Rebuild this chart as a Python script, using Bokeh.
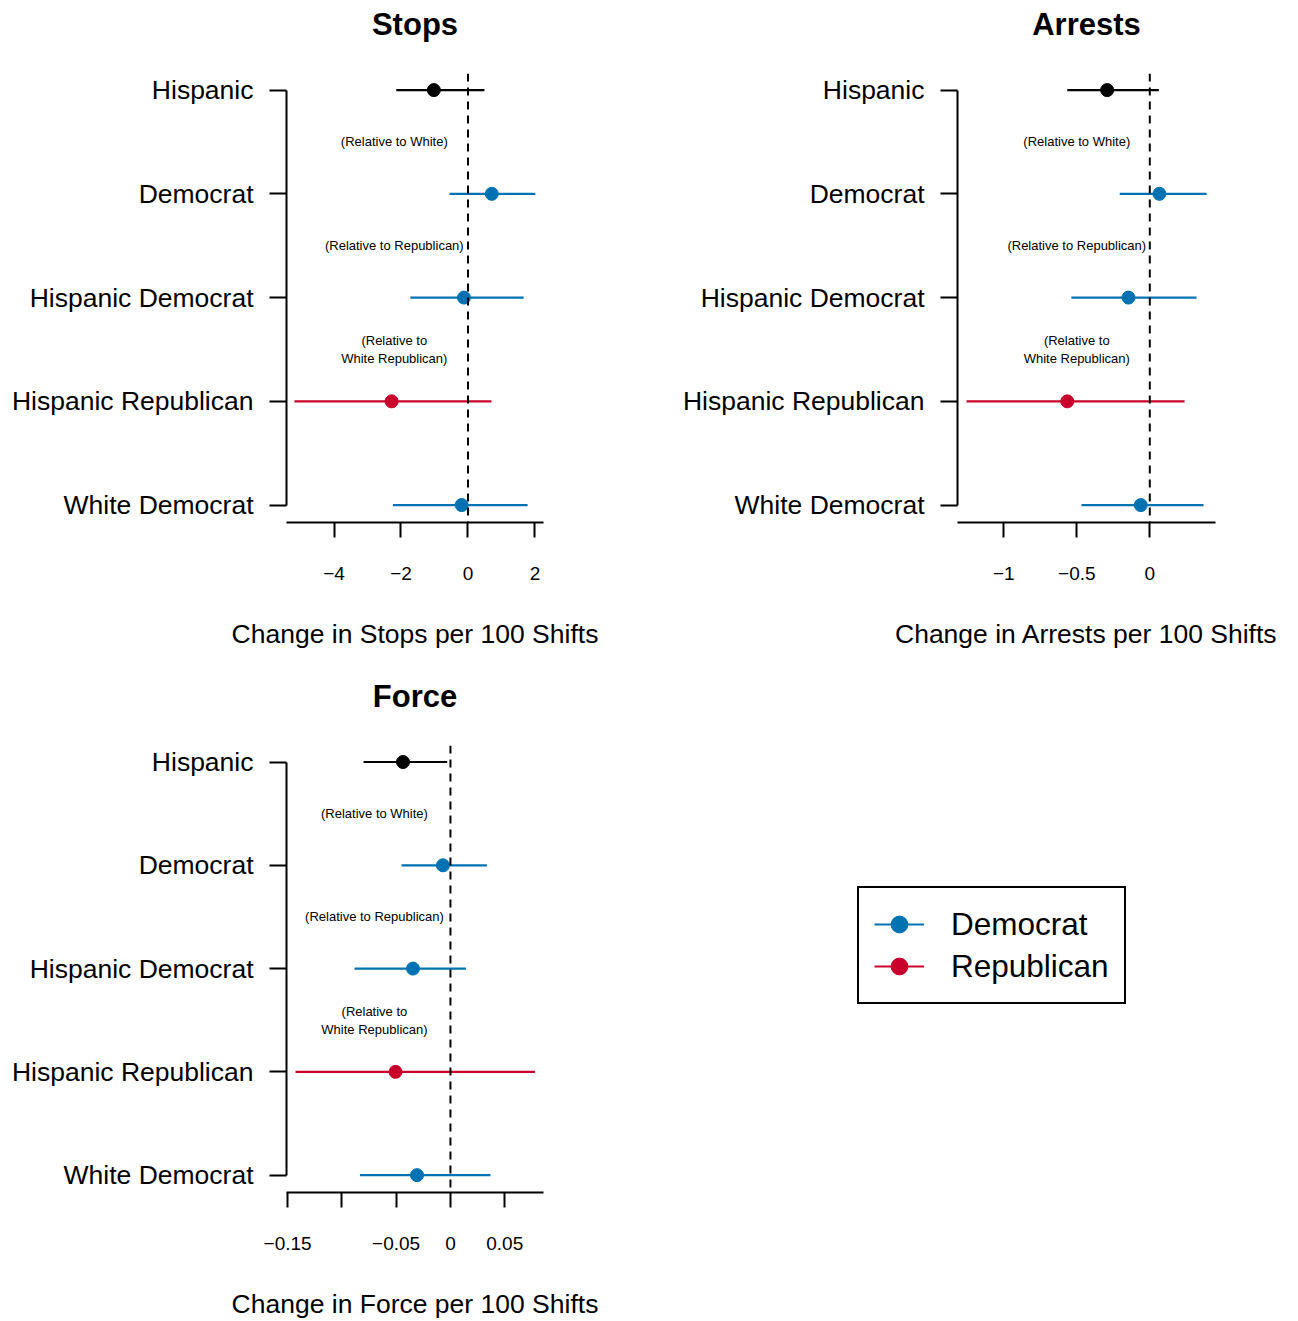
from bokeh.plotting import figure
from bokeh.layouts import column, row
from bokeh.models import ColumnDataSource, FixedTicker, Span, Legend, LegendItem, Range1d, Title
from bokeh.core.properties import value
from bokeh.embed import file_html
from bokeh.resources import INLINE

FONT = "Liberation Sans"
BLUE = "#0072B2"
RED = "#C9002B"

# ---- data -------------------------------------------------------------
rows = ["Hispanic", "Democrat", "Hispanic Democrat", "Hispanic Republican", "White Democrat"]
row_party = ["Hispanic", "Democrat", "Democrat", "Republican", "Democrat"]
notes = ["(Relative to White)", "(Relative to Republican)", "(Relative to\nWhite Republican)"]

stops_est = [-1.02, 0.71, -0.12, -2.28, -0.19]
stops_lo = [-2.14, -0.55, -1.72, -5.18, -2.24]
stops_hi = [0.49, 2.01, 1.66, 0.70, 1.78]
stops_ticks = [-4, -2, 0, 2]
stops_tick_labels = ["−4", "−2", "0", "2"]
stops_note_x = -2.2

arrests_est = [-0.292, 0.066, -0.146, -0.565, -0.062]
arrests_lo = [-0.565, -0.206, -0.537, -1.255, -0.468]
arrests_hi = [0.062, 0.389, 0.320, 0.238, 0.368]
arrests_ticks = [-1, -0.5, 0]
arrests_tick_labels = ["−1", "−0.5", "0"]
arrests_note_x = -0.5

force_est = [-0.0437, -0.0069, -0.0345, -0.0506, -0.0308]
force_lo = [-0.0800, -0.0450, -0.0884, -0.1427, -0.0833]
force_hi = [-0.0030, 0.0336, 0.0143, 0.0778, 0.0368]
force_ticks = [-0.15, -0.10, -0.05, 0, 0.05]
force_tick_labels = ["−0.15", "", "−0.05", "0", "0.05"]
force_note_x = -0.07

legend_labels = ["Democrat", "Republican"]

# ---- styling ----------------------------------------------------------
party_colors = {"Hispanic": "black", "Democrat": BLUE, "Republican": RED}


def make_panel(title, est, lo, hi, ticks, tick_labels, note_x, xlabel, x_limits,
               width, height, left, top, bottom, frame_w):
    n = len(rows)
    ys = [n - i for i in range(n)]
    colors = [party_colors[p] for p in row_party]
    src = ColumnDataSource(dict(y=ys, est=est, lo=lo, hi=hi, color=colors))

    p = figure(width=width, height=height,
               x_range=Range1d(*x_limits), y_range=Range1d(0.832, n + 0.16),
               toolbar_location=None, output_backend="svg")
    p.min_border_left = left
    p.min_border_right = width - left - frame_w
    p.min_border_top = top
    p.min_border_bottom = bottom
    p.outline_line_color = None
    p.grid.visible = False

    # heading, lifted away from the plotting area by an empty title row
    p.title.text = title
    p.title.align = "center"
    p.title.text_color = "black"
    p.title.text_font = FONT
    p.title.text_font_size = "31px"
    p.title.text_font_style = "bold"
    p.title.standoff = 0
    p.add_layout(Title(text=" ", text_font_size="26px", standoff=0), "above")

    # reference line at zero
    p.add_layout(Span(location=0, dimension="height", line_color="black",
                      line_width=2, line_dash="8 6"))

    # confidence intervals and point estimates
    p.segment(x0="lo", y0="y", x1="hi", y1="y", source=src, line_color="color", line_width=2.2)
    p.scatter(x="est", y="y", source=src, size=13, fill_color="color", line_color="color")

    # comparison notes between rows
    note_src = ColumnDataSource(dict(x=[note_x] * len(notes),
                                     y=[n - i - 0.5 for i in range(len(notes))],
                                     text=notes))
    p.text(x="x", y="y", text="text", source=note_src, text_font=value(FONT),
           text_font_size="13px", text_align="center", text_baseline="middle",
           text_color="black", text_line_height=1.2)

    # x axis
    xa = p.xaxis[0]
    xa.ticker = FixedTicker(ticks=ticks)
    xa.major_label_overrides = {t: lab for t, lab in zip(ticks, tick_labels)}
    xa.axis_label = xlabel
    xa.axis_label_text_font = FONT
    xa.axis_label_text_font_size = "26.5px"
    xa.axis_label_text_font_style = "normal"
    xa.axis_label_text_color = "black"
    xa.axis_label_standoff = 36
    xa.major_label_text_font = FONT
    xa.major_label_text_font_size = "19px"
    xa.major_label_text_color = "black"
    xa.major_label_standoff = 29
    xa.major_tick_in = 0
    xa.major_tick_out = 15
    xa.minor_tick_line_color = None
    xa.axis_line_width = 2
    xa.major_tick_line_width = 2
    xa.axis_line_color = "black"
    xa.major_tick_line_color = "black"

    # y axis with row names
    ya = p.yaxis[0]
    ya.ticker = FixedTicker(ticks=ys)
    ya.major_label_overrides = {y: name for y, name in zip(ys, rows)}
    ya.bounds = (1, n)
    ya.major_label_text_font = FONT
    ya.major_label_text_font_size = "26.5px"
    ya.major_label_text_color = "black"
    ya.major_label_standoff = 16
    ya.major_tick_in = 0
    ya.major_tick_out = 17
    ya.minor_tick_line_color = None
    ya.axis_line_width = 2
    ya.major_tick_line_width = 2
    ya.axis_line_color = "black"
    ya.major_tick_line_color = "black"
    return p


p1 = make_panel("Stops", stops_est, stops_lo, stops_hi, stops_ticks, stops_tick_labels,
                stops_note_x, "Change in Stops per 100 Shifts", (-5.418, 2.254),
                649, 672, 286, 73, 150, 257)
p2 = make_panel("Arrests", arrests_est, arrests_lo, arrests_hi, arrests_ticks, arrests_tick_labels,
                arrests_note_x, "Change in Arrests per 100 Shifts", (-1.317, 0.450),
                649, 672, 308, 73, 150, 258)
p3 = make_panel("Force", force_est, force_lo, force_hi, force_ticks, force_tick_labels,
                force_note_x, "Change in Force per 100 Shifts", (-0.151, 0.0857),
                649, 649, 286, 73, 127, 257)

# legend panel
p4 = figure(width=649, height=649, x_range=(0, 1), y_range=(0, 1),
            x_axis_location=None, y_axis_location=None,
            toolbar_location=None, output_backend="svg", min_border=0)
p4.outline_line_color = None
p4.grid.visible = False
items = []
for lab in legend_labels:
    c = party_colors[lab]
    nan = float("nan")
    ln = p4.line(x=[nan], y=[nan], line_color=c, line_width=2)
    sc = p4.scatter(x=[nan], y=[nan], size=17, fill_color=c, line_color=c)
    items.append(LegendItem(label=lab, renderers=[ln, sc]))
leg = Legend(items=items, location=(208, 188), orientation="vertical",
             glyph_width=50, glyph_height=42, label_height=42, label_width=158,
             label_standoff=27, spacing=0, padding=15, margin=0,
             label_text_font=FONT, label_text_font_size="31.5px", label_text_color="black",
             border_line_color="black", border_line_width=2, border_line_alpha=1.0,
             background_fill_color="white", background_fill_alpha=1.0)
p4.add_layout(leg)

layout = column(row(p1, p2), row(p3, p4))

with open("out.html", "w") as f:
    f.write(file_html(layout, INLINE))
